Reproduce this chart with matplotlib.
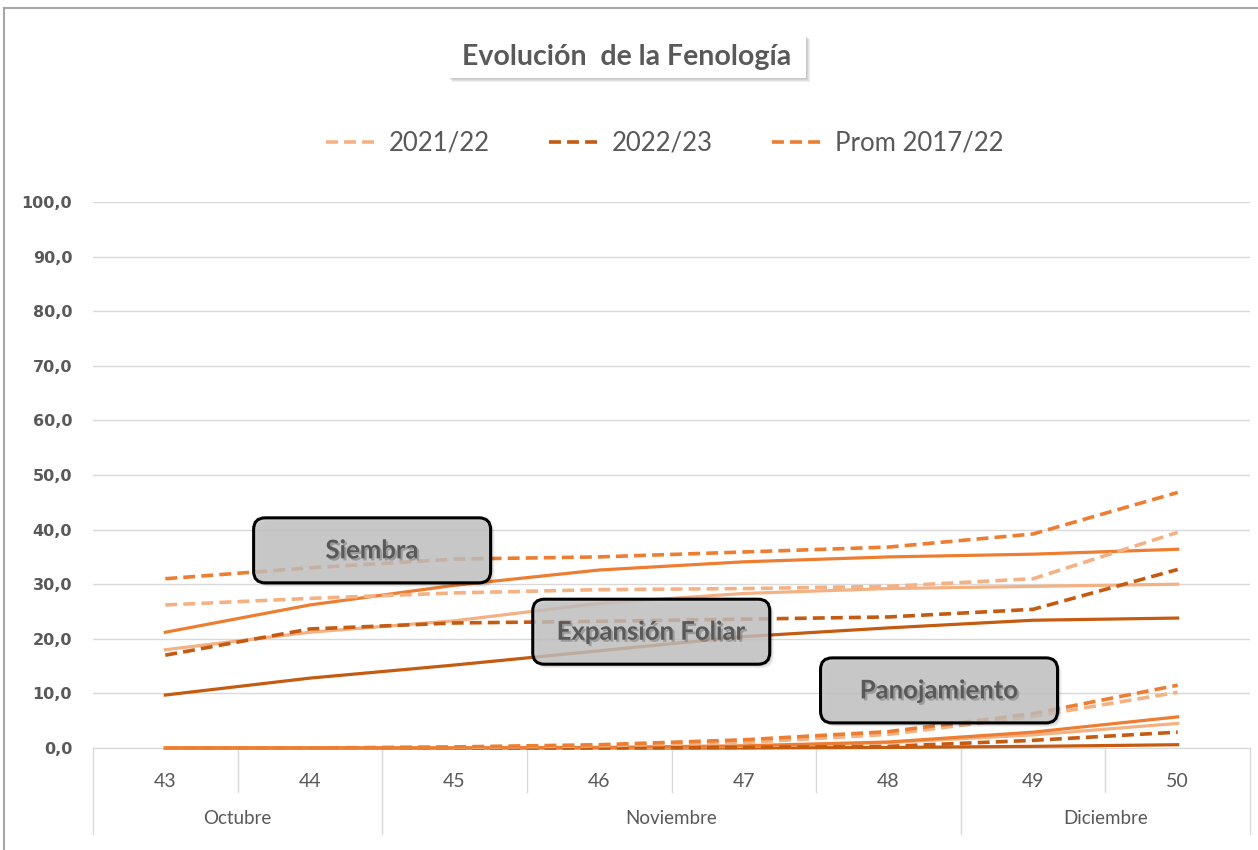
import matplotlib
matplotlib.use('Agg')
import matplotlib.pyplot as plt
import matplotlib.patheffects as pe
from matplotlib.patches import FancyBboxPatch, Rectangle
from matplotlib.lines import Line2D

plt.rcParams['font.family'] = ['Lato', 'DejaVu Sans']

weeks = [43, 44, 45, 46, 47, 48, 49, 50]
months = ['Octubre', 'Noviembre', 'Diciembre']
month_first = [43, 45, 49]
month_last = [44, 48, 50]

# Siembra (dashed)
siembra_2122 = [26.2, 27.4, 28.4, 29.0, 29.2, 29.6, 31.0, 39.5]
siembra_2223 = [17.0, 21.8, 22.9, 23.2, 23.6, 24.0, 25.4, 32.7]
siembra_prom = [31.0, 33.0, 34.6, 35.0, 35.9, 36.8, 39.2, 46.8]

# Expansion foliar (solid)
expansion_2122 = [18.0, 21.2, 23.3, 26.5, 28.3, 29.2, 29.6, 30.0]
expansion_2223 = [9.7, 12.8, 15.2, 17.8, 20.4, 22.0, 23.4, 23.8]
expansion_prom = [21.2, 26.2, 29.8, 32.6, 34.1, 35.0, 35.5, 36.4]

# Panojamiento (bottom group)
pano_2122 = [0.0, 0.0, 0.1, 0.4, 1.0, 2.5, 5.8, 10.2]
pano_2223 = [0.0, 0.0, 0.0, 0.0, 0.1, 0.3, 1.4, 2.9]
pano_prom = [0.0, 0.0, 0.2, 0.6, 1.5, 3.0, 6.3, 11.5]
pano_sol_2122 = [0.0, 0.0, 0.0, 0.0, 0.3, 1.0, 2.4, 4.5]
pano_sol_2223 = [0.0, 0.0, 0.0, 0.0, 0.0, 0.1, 0.3, 0.6]
pano_sol_prom = [0.0, 0.0, 0.0, 0.1, 0.4, 1.1, 2.9, 5.7]

labels = ['2021/22', '2022/23', 'Prom 2017/22']
c_2122 = '#F4B183'
c_2223 = '#C55A11'
c_prom = '#ED7D31'
txt = '#595959'
grid = '#D9D9D9'

fig = plt.figure(figsize=(12.58, 8.5), dpi=100)
ax = fig.add_axes([93 / 1258, 102 / 850, 1157 / 1258, 546 / 850])

dash = (0, (3.3, 1.7))
lw = 2.3
dlw = 2.6

ax.plot(weeks, pano_sol_2223, color=c_2223, lw=lw, clip_on=False, zorder=3)
ax.plot(weeks, pano_sol_2122, color=c_2122, lw=lw, clip_on=False, zorder=3)
ax.plot(weeks, pano_sol_prom, color=c_prom, lw=lw, clip_on=False, zorder=3)
ax.plot(weeks, pano_2223, color=c_2223, lw=dlw, ls=dash, clip_on=False, zorder=3)
ax.plot(weeks, pano_2122, color=c_2122, lw=dlw, ls=dash, clip_on=False, zorder=3)
ax.plot(weeks, pano_prom, color=c_prom, lw=dlw, ls=dash, clip_on=False, zorder=3)

ax.plot(weeks, expansion_2223, color=c_2223, lw=lw, zorder=3)
ax.plot(weeks, expansion_2122, color=c_2122, lw=lw, zorder=3)
ax.plot(weeks, expansion_prom, color=c_prom, lw=lw, zorder=3)

h1, = ax.plot(weeks, siembra_2122, color=c_2122, lw=dlw, ls=dash, zorder=3)
h2, = ax.plot(weeks, siembra_2223, color=c_2223, lw=dlw, ls=dash, zorder=3)
h3, = ax.plot(weeks, siembra_prom, color=c_prom, lw=dlw, ls=dash, zorder=3)

ax.set_xlim(42.5, 50.5)
ax.set_ylim(0, 100)
ax.set_yticks(range(0, 101, 10))
ax.set_yticklabels([f'{v:.1f}'.replace('.', ',') for v in range(0, 101, 10)],
                   family='DejaVu Sans', fontweight='bold', fontsize=11.5, color=txt)
ax.set_xticks(weeks)
ax.set_xticklabels([str(w) for w in weeks], fontsize=14, color=txt)
ax.tick_params(axis='y', length=0, pad=15)
ax.tick_params(axis='x', length=0, pad=18)
ax.grid(axis='y', color=grid, lw=1)
ax.set_axisbelow(True)
for s in ['top', 'right', 'left']:
    ax.spines[s].set_visible(False)
ax.spines['bottom'].set_color(grid)

# multi-level category separators
tr = ax.get_xaxis_transform()
for b in [43.5, 45.5, 46.5, 47.5, 49.5]:
    ax.add_line(Line2D([b, b], [0, -0.08], transform=tr, color=grid, lw=1, clip_on=False))
for b in [42.5, 44.5, 48.5, 50.5]:
    ax.add_line(Line2D([b, b], [0, -0.157], transform=tr, color=grid, lw=1, clip_on=False))
for m, a, b in zip(months, month_first, month_last):
    ax.text((a + b) / 2, -0.13, m, transform=tr, ha='center', va='center',
            fontsize=13.5, color=txt)

# phase label boxes
ux = 1157 / 8.0
uy = 546 / 100.0
bw, bh = 237 / ux, 65 / uy
boxes = [('Siembra', 44.43, 36.2), ('Expansión Foliar', 46.36, 21.3), ('Panojamiento', 48.35, 10.55)]
for name, cx, cy in boxes:
    for k in range(1, 4):
        sh = FancyBboxPatch((cx - bw / 2 + (1 + k) / ux, cy - bh / 2 - (1 + k) / uy), bw, bh,
                            boxstyle='round,pad=0,rounding_size=0.08', mutation_aspect=ux / uy,
                            facecolor='black', edgecolor='none', alpha=0.06, zorder=4)
        ax.add_patch(sh)
    bx = FancyBboxPatch((cx - bw / 2, cy - bh / 2), bw, bh,
                        boxstyle='round,pad=0,rounding_size=0.08', mutation_aspect=ux / uy,
                        facecolor='#C4C4C4', edgecolor='none', alpha=0.8, zorder=5)
    ax.add_patch(bx)
    ax.add_patch(FancyBboxPatch((cx - bw / 2, cy - bh / 2), bw, bh,
                                boxstyle='round,pad=0,rounding_size=0.08', mutation_aspect=ux / uy,
                                facecolor='none', edgecolor='black', lw=2.2, zorder=5))
    ax.text(cx, cy, name, ha='center', va='center', fontsize=18.5, fontweight='bold',
            color=txt, zorder=6,
            path_effects=[pe.withSimplePatchShadow(offset=(1.5, -1.5), alpha=0.25)])

# title with soft shadowed white box
for k in range(1, 5):
    fig.add_artist(Rectangle(((448 + k) / 1258, 1 - (78 + k) / 850), 358 / 1258, 43 / 850,
                             transform=fig.transFigure, facecolor='black', alpha=0.06,
                             edgecolor='none'))
fig.add_artist(Rectangle((448 / 1258, 1 - 78 / 850), 358 / 1258, 43 / 850,
                         transform=fig.transFigure, facecolor='white', edgecolor='none'))
fig.text(627 / 1258, 1 - 57 / 850, 'Evolución  de la Fenología', ha='center', va='center',
         fontsize=20.5, fontweight='bold', color=txt)

leg = fig.legend([h1, h2, h3], labels, loc='center', bbox_to_anchor=(665 / 1258, 1 - 143 / 850),
                 ncol=3, frameon=False, fontsize=18.5, handlelength=2.0, columnspacing=2.3,
                 handletextpad=0.45)
for t in leg.get_texts():
    t.set_color(txt)

# outer chart border
fig.add_artist(Line2D([4 / 1258, 4 / 1258], [0, 1 - 8 / 850], transform=fig.transFigure,
                      color='#A6A6A6', lw=1.5))
fig.add_artist(Line2D([4 / 1258, 1], [1 - 8 / 850, 1 - 8 / 850], transform=fig.transFigure,
                      color='#A6A6A6', lw=1.5))

fig.savefig('out.png', dpi=100)
